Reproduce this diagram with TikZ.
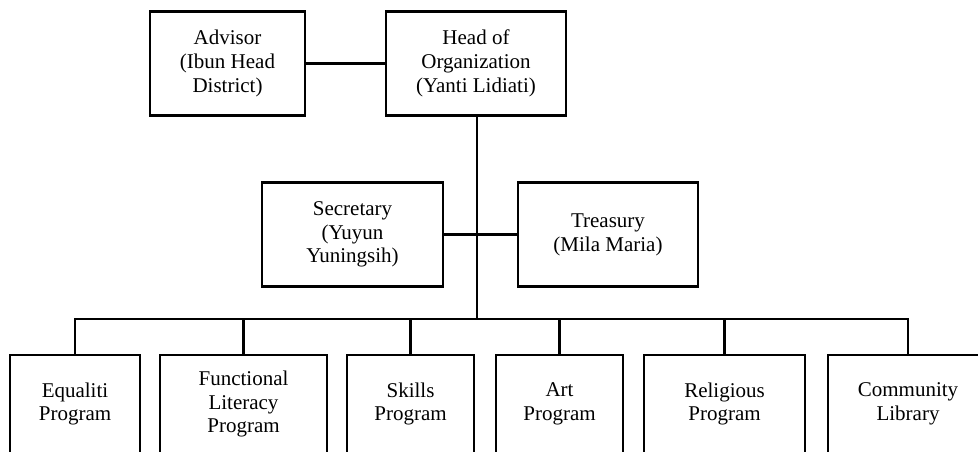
\documentclass[tikz,border=0pt]{standalone}
\usepackage{fontspec}
\setmainfont{Liberation Serif}
\usetikzlibrary{positioning}

\begin{document}
\begin{tikzpicture}[x = 0.5pt, y = -0.5pt, % one unit = one pixel, y down
                line width = 1.4pt % line style
            ]

            \tikzstyle{every node}=[draw = black, rectangle, align = center,
            line width = 1.4pt, inner sep = 2pt,
            font = \fontsize{10.5}{11.9}\selectfont]
            \tikzstyle{top box}=[minimum height = 52pt]
            \tikzstyle{prog box}=[minimum height = 49pt, minimum width = 64pt]

            \clip (0,0) rectangle (978,451);

            \node (adv) [top box, minimum width = 77.5pt] at (227.5,63.5)
            {Advisor\\(Ibun Head\\District)};
            \node (head) [top box, minimum width = 90pt] at (476,63.5)
            {Head of\\Organization\\(Yanti Lidiati)};
            \node (sec) [top box, minimum width = 90.5pt] at (352.5,234.5)
            {Secretary\\(Yuyun\\Yuningsih)};
            \node (treas) [top box, minimum width = 90pt] at (608,234.5)
            {Treasury\\(Mila Maria)};

            \node (eq) [prog box, minimum width = 65pt] at (75,404)
            {Equaliti\\Program};
            \node (fun) [prog box, minimum width = 83.5pt] at (243.5,404)
            {Functional\\Literacy\\Program};
            \node (skl) [prog box, minimum width = 63.5pt] at (410.5,404)
            {Skills\\Program};
            \node (art) [prog box, minimum width = 63.5pt] at (559.5,404)
            {Art\\Program};
            \node (rel) [prog box, minimum width = 80.5pt] at (724.5,404)
            {Religious\\Program};
            \node (com) [prog box, minimum width = 80pt] at (908,404)
            {Community\\Library};

            \coordinate (bus) at (477,319);

            \draw (adv) -- (head); \draw (sec) -- (treas);
            \draw (head.south -| bus) -- (bus);
            \draw (eq.north) |- (bus) -| (com.north);
            \foreach \n in {fun, skl, art, rel}
                \draw (\n.north) -- (\n.north |- bus);
\end{tikzpicture}
\end{document}
